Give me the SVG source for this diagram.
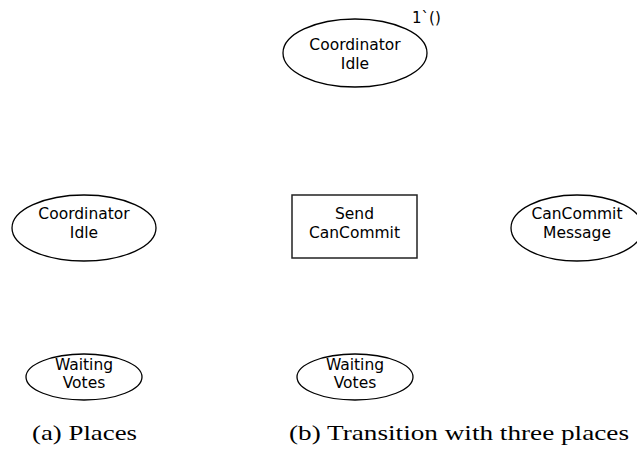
<svg xmlns="http://www.w3.org/2000/svg" width="637" height="450" viewBox="0 0 637 450">
  <style>
    .place { fill: #ffffff; stroke: #000000; stroke-width: 1.3; }
    .trans { fill: #ffffff; stroke: #222222; stroke-width: 1.5; }
    .lbl { font-family: "DejaVu Sans", Verdana, sans-serif; font-size: 15.5px; fill: #000000; text-anchor: middle; }
    .mark { font-family: "DejaVu Sans", sans-serif; font-size: 15px; fill: #000000; }
    .cap { font-family: "Liberation Serif", "Times New Roman", serif; font-size: 22px; fill: #000000; }
  </style>

  <!-- (a) places -->
  <g id="a-coordinator-idle">
    <ellipse class="place" cx="84" cy="228" rx="72" ry="33"/>
    <text class="lbl" x="84" y="219">Coordinator</text>
    <text class="lbl" x="84" y="238">Idle</text>
  </g>
  <g id="a-waiting-votes">
    <ellipse class="place" cx="84" cy="377" rx="58" ry="23"/>
    <text class="lbl" x="84" y="370">Waiting</text>
    <text class="lbl" x="84" y="388">Votes</text>
  </g>

  <!-- (b) transition with three places -->
  <g id="b-coordinator-idle">
    <ellipse class="place" cx="355" cy="53" rx="72" ry="34"/>
    <text class="lbl" x="355" y="50">Coordinator</text>
    <text class="lbl" x="355" y="69">Idle</text>
    <text class="mark" x="412" y="23">1`()</text>
  </g>
  <g id="b-send-cancommit">
    <rect class="trans" x="292" y="195" width="125" height="63"/>
    <text class="lbl" x="354.5" y="219">Send</text>
    <text class="lbl" x="354.5" y="238">CanCommit</text>
  </g>
  <g id="b-cancommit-message">
    <ellipse class="place" cx="577" cy="228" rx="66" ry="33"/>
    <text class="lbl" x="577" y="219">CanCommit</text>
    <text class="lbl" x="577" y="238">Message</text>
  </g>
  <g id="b-waiting-votes">
    <ellipse class="place" cx="355" cy="377" rx="58" ry="23"/>
    <text class="lbl" x="355" y="370">Waiting</text>
    <text class="lbl" x="355" y="388">Votes</text>
  </g>

  <!-- no arcs drawn between the nodes -->
  <g id="connectors"/>

  <!-- sub-figure captions -->
  <text class="cap" x="32" y="440" textLength="105" lengthAdjust="spacingAndGlyphs">(a) Places</text>
  <text class="cap" x="289" y="440" textLength="340" lengthAdjust="spacingAndGlyphs">(b) Transition with three places</text>
</svg>
